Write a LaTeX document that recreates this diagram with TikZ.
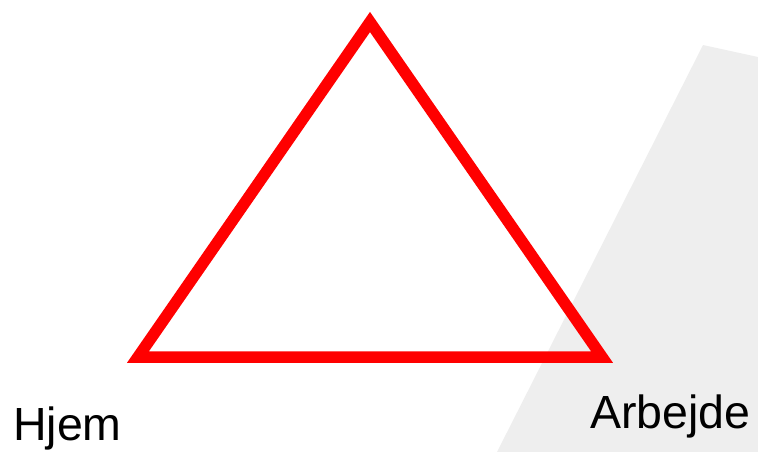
\documentclass[tikz,border=0pt]{standalone}
\usepackage{fontspec}
\setmainfont{Liberation Sans}
\begin{document}
\begin{tikzpicture}[
    x=1pt, y=-1pt,
    tri/.style={draw=red, line width=11.5pt, miter limit=10},
    place/.style={inner sep=0pt, anchor=base west, font=\fontsize{46.5}{54}\selectfont},
    backdrop/.style={fill=black!6.5, draw=none}
]
\useasboundingbox (0,0) rectangle (758,452);

% Background shape on the right
\fill[backdrop] (703,45) -- (758,57) -- (758,452) -- (497,452) -- cycle;

% Triangle corners
\coordinate (home) at (138,357);
\coordinate (work) at (602,357);
\coordinate (apex) at (370,22);

\draw[tri] (home) -- (work) -- (apex) -- cycle;

% Labels
\node[place] (hjem) at (13,440) {Hjem};
\node[place] (arbejde) at (590,428) {Arbejde};

\end{tikzpicture}
\end{document}
